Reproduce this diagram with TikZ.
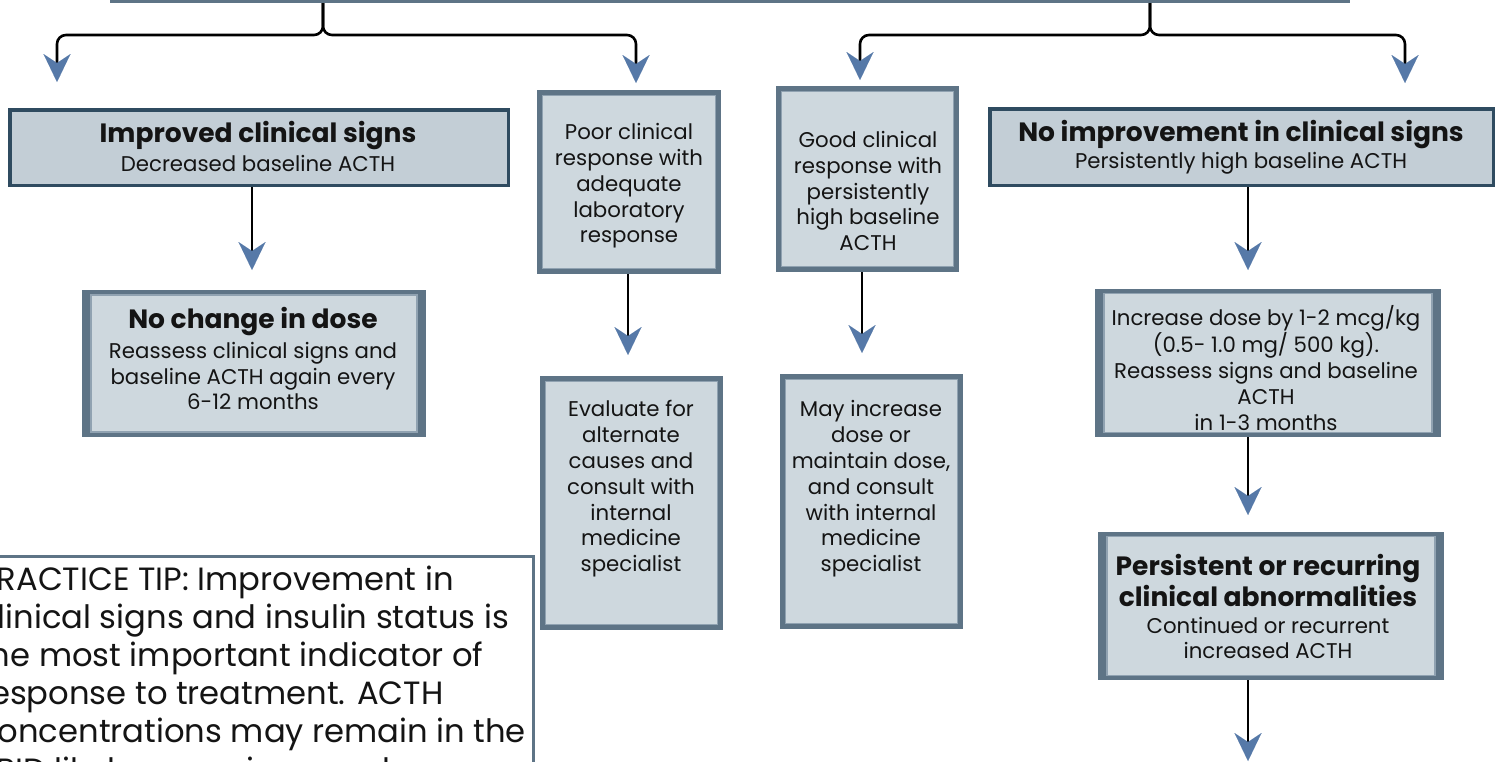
\documentclass[tikz,border=0pt]{standalone}
\usepackage{fontspec}
\setmainfont{Poppins}
\usetikzlibrary{arrows.meta,calc}
\definecolor{darkc}{HTML}{2F4B60}
\definecolor{fillA}{HTML}{C3CED6}
\definecolor{slate}{HTML}{5E7486}
\definecolor{innerc}{HTML}{90A2B1}
\definecolor{fillB}{HTML}{CED8DE}
\definecolor{arrblue}{HTML}{5679A8}
\definecolor{txt}{HTML}{141414}
\tikzset{
  boxbase/.style={rectangle, inner sep=0pt, outer sep=0pt},
  sbox/.style 2 args={boxbase, fill=slate,
    path picture={
      \filldraw[fill=fillB, draw=innerc, line width=1.2pt]
        ([shift={(#1,#2)}]path picture bounding box.north west) rectangle ([shift={(-#1,-#2)}]path picture bounding box.south east);}},
  dbox/.style={boxbase, fill=darkc,
    path picture={
      \fill[fillA]
        ([shift={(3.5,3.5)}]path picture bounding box.north west) rectangle ([shift={(-3.5,-3.5)}]path picture bounding box.south east);}},
  body/.style={align=center, inner sep=0pt, text=txt, font=\fontsize{21.3}{25.8}\selectfont},
  title/.style={align=center, inner sep=0pt, text=txt, font=\fontsize{26.5}{31}\selectfont\bfseries},
  conn/.style={line width=2.6pt, draw=black,
    -{Stealth[length=28pt, width=27pt, inset=9pt, color=arrblue, fill=arrblue, line width=0.01pt]}},
}
\begin{document}
\begin{tikzpicture}[x=1pt, y=-1pt]
\path[use as bounding box] (0,0) rectangle (1502,761);
\clip (0,0) rectangle (1502,761);
% boxes
\node[sbox={9}{4.5}, minimum width=1240, minimum height=60] (top) at (730,-27) {};
\node[dbox, minimum width=502, minimum height=79] (A) at (259,147.5) {};
\node[sbox={9}{5}, minimum width=344, minimum height=147] (B) at (254,363.5) {};
\node[sbox={5.5}{5.5}, minimum width=184, minimum height=184] (C) at (629,182) {};
\node[sbox={5.5}{5.5}, minimum width=183, minimum height=254] (D) at (631.5,503) {};
\node[sbox={5.5}{5.5}, minimum width=183, minimum height=186] (E) at (867.5,179) {};
\node[sbox={5.5}{5.5}, minimum width=183, minimum height=255] (F) at (871.5,501.5) {};
\node[dbox, minimum width=507, minimum height=80] (G) at (1241.5,147) {};
\node[sbox={9}{4.5}, minimum width=346, minimum height=148] (H) at (1268,363) {};
\node[sbox={9}{4.5}, minimum width=346, minimum height=148] (I) at (1271,606) {};
\node[boxbase, draw=slate, line width=3pt, fill=white, minimum width=600, minimum height=300, anchor=north east] (tip) at (533.5,556.5) {};
% texts
\node[title] (At) at (258,136) {Improved clinical signs};
\node[body] (Ab) at (258,163) {Decreased baseline ACTH};
\node[title] (Bt) at (253,322) {No change in dose};
\node[body] (Bb) at (253,376) {Reassess clinical signs and\\baseline ACTH again every\\6-12 months};
\node[body] (Ct) at (629,186) {Poor clinical\\response with\\adequate\\laboratory\\response};
\node[body] (Dt) at (631,489) {Evaluate for\\alternate\\causes and\\consult with\\internal\\medicine\\specialist};
\node[body] (Et) at (868,191) {Good clinical\\response with\\persistently\\high baseline\\ACTH};
\node[body] (Ft) at (871,489) {May increase\\dose or\\maintain dose,\\and consult\\with internal\\medicine\\specialist};
\node[title] (Gt) at (1241,135) {No improvement in clinical signs};
\node[body] (Gb) at (1241,163) {Persistently high baseline ACTH};
\node[body] (Ht) at (1266,368) {Increase dose by 1-2 mcg/kg\\(0.5- 1.0 mg/ 500 kg).\\Reassess signs and baseline\\ACTH\\in 1-3 months};
\node[title] (It) at (1268,580.5) {Persistent or recurring\\clinical abnormalities};
\node[body] (Ib) at (1268,638) {Continued or recurrent\\increased ACTH};
\node[align=left, inner sep=0pt, text=txt, anchor=base west, font=\fontsize{32.2}{38.2}\selectfont] (tipt) at (-22,781)
  {PRACTICE TIP: Improvement in\\clinical signs and insulin status is\\the most important indicator of\\response to treatment. ACTH\\concentrations may remain in the\\PPID likely range in some horses};
% braces
\coordinate (end) at (1248,761);
\draw[conn, rounded corners=9pt] (323,0 |- top.south) -- (323,35) -- (57,35) -- ([yshift=26pt]57,0 |- A.north);
\draw[conn, rounded corners=9pt] (323,0 |- top.south) -- (323,35) -- (636,35) -- ([yshift=7pt]636,0 |- C.north);
\draw[conn, rounded corners=9pt] (1150,0 |- top.south) -- (1150,35) -- (860,35) -- ([yshift=6pt]860,0 |- E.north);
\draw[conn, rounded corners=9pt] (1150,0 |- top.south) -- (1150,35) -- (1405,35) -- ([yshift=24pt]1405,0 |- G.north);
% straight arrows
\draw[conn] (252,0 |- A.south) -- ([yshift=20pt]252,0 |- B.north);
\draw[conn] (628,0 |- C.south) -- ([yshift=21pt]628,0 |- D.north);
\draw[conn] (862,0 |- E.south) -- ([yshift=21pt]862,0 |- F.north);
\draw[conn] (1248,0 |- G.south) -- ([yshift=19pt]1248,0 |- H.north);
\draw[conn] (1248,0 |- H.south) -- ([yshift=17pt]1248,0 |- I.north);
\draw[conn] (1248,0 |- I.south) -- (end);
\end{tikzpicture}
\end{document}
